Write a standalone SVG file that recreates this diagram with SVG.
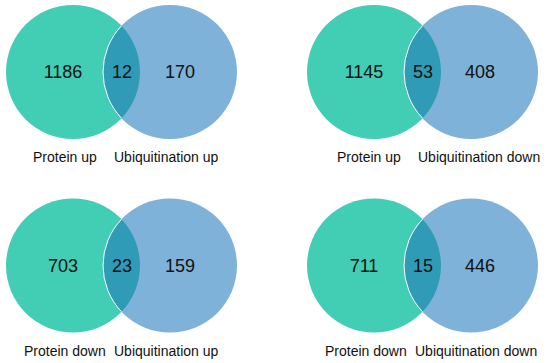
<svg xmlns="http://www.w3.org/2000/svg" width="550" height="363" viewBox="0 0 550 363">
<defs>
<style>
.a{fill:#42CDB5}
.b{fill:#7EB2D8}
.l{fill:#2F9BB6}
.e{fill:none;stroke:#FFFFFF;stroke-width:1}
.n{font-family:"Liberation Sans",Arial,sans-serif;font-size:18px;fill:#111111;text-anchor:middle}
.t{font-family:"Liberation Sans",Arial,sans-serif;font-size:14px;fill:#111111}
</style>
<g id="venn">
<circle class="a" cx="0" cy="0" r="67"/>
<circle class="b" cx="97" cy="0" r="67"/>
<path class="l" d="M48.5,-46.2 A67,67 0 0 1 48.5,46.2 A67,67 0 0 1 48.5,-46.2 Z"/>
<path class="e" d="M48.5,46.2 A67,67 0 0 1 48.5,-46.2"/>
</g>
</defs>
<rect width="550" height="363" fill="#FFFFFF"/>
<g id="panel-protein-up-ubi-up" transform="translate(73,72)">
<use href="#venn"/>
<text class="n" x="-10" y="6">1186</text>
<text class="n" x="49" y="6">12</text>
<text class="n" x="107" y="6">170</text>
</g>
<g id="panel-protein-up-ubi-down" transform="translate(374,72)">
<use href="#venn"/>
<text class="n" x="-10" y="6">1145</text>
<text class="n" x="49" y="6">53</text>
<text class="n" x="106" y="6">408</text>
</g>
<g id="panel-protein-down-ubi-up" transform="translate(73,265.5)">
<use href="#venn"/>
<text class="n" x="-10" y="6.5">703</text>
<text class="n" x="49" y="6.5">23</text>
<text class="n" x="107" y="6.5">159</text>
</g>
<g id="panel-protein-down-ubi-down" transform="translate(374,265.5)">
<use href="#venn"/>
<text class="n" x="-10" y="6.5">711</text>
<text class="n" x="49" y="6.5">15</text>
<text class="n" x="106" y="6.5">446</text>
</g>
<g id="labels">
<text class="t" x="33" y="162">Protein up</text>
<text class="t" x="114" y="162">Ubiquitination up</text>
<text class="t" x="337" y="162">Protein up</text>
<text class="t" x="418" y="162">Ubiquitination down</text>
<text class="t" x="24" y="356">Protein down</text>
<text class="t" x="114" y="356">Ubiquitination up</text>
<text class="t" x="325" y="356">Protein down</text>
<text class="t" x="415" y="356">Ubiquitination down</text>
</g>
</svg>
